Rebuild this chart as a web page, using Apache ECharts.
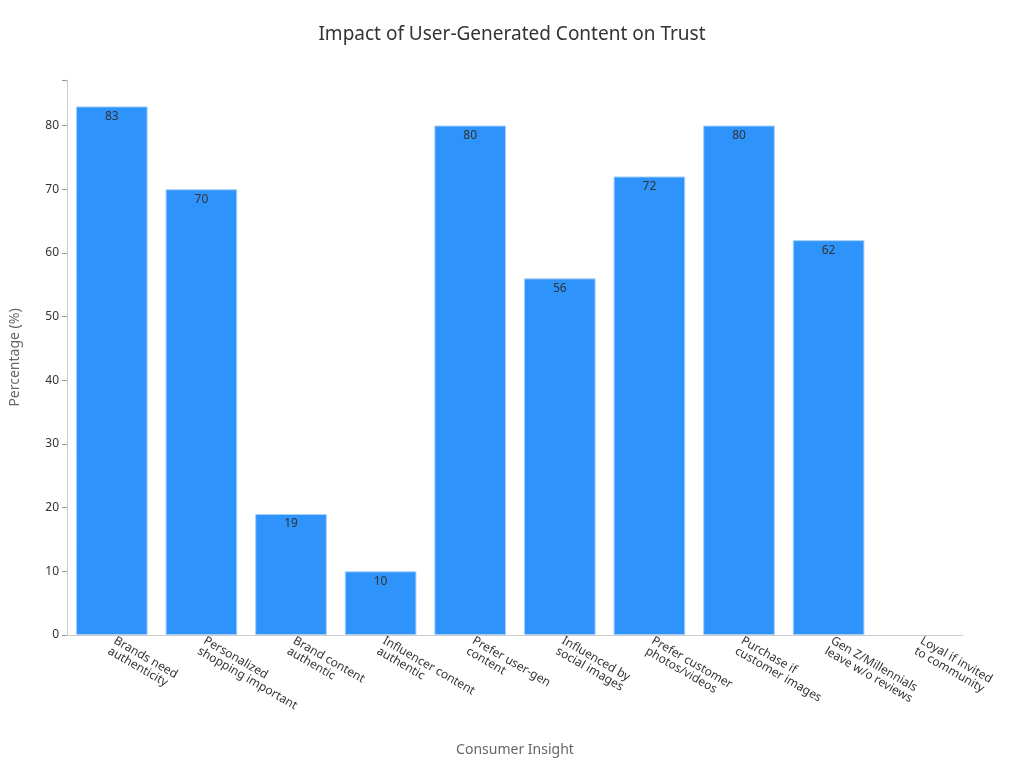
<!DOCTYPE html>
<html>
<head>
<meta charset="utf-8">
<script src="https://cdn.jsdelivr.net/npm/echarts@6/dist/echarts.min.js"></script>
<style>html,body{margin:0;padding:0;background:#fff}#main{width:1024px;height:768px}</style>
</head>
<body>
<div id="main"></div>
<script>
var categories = ['Brands need\nauthenticity', 'Personalized\nshopping important', 'Brand content\nauthentic', 'Influencer content\nauthentic', 'Prefer user-gen\ncontent', 'Influenced by\nsocial images', 'Prefer customer\nphotos/videos', 'Purchase if\ncustomer images', 'Gen Z/Millennials\nleave w/o reviews', 'Loyal if invited\nto community'];
var values = [83, 70, 19, 10, 80, 56, 72, 80, 62, '-'];

var chart = echarts.init(document.getElementById('main'));
chart.setOption({
    title: {
        text: 'Impact of User-Generated Content on Trust',
        left: 'center', top: 20,
        textStyle: {fontFamily: 'Noto Sans', fontWeight: 'normal', fontSize: 19, color: '#333'}
    },
    grid: {left: 60, right: 61, top: 80, bottom: 133},
    xAxis: {
        type: 'category',
        data: categories,
        name: 'Consumer Insight',
        nameLocation: 'middle', nameGap: 108,
        nameTextStyle: {fontFamily: 'Noto Sans', fontSize: 14, color: '#666'},
        axisLine: {lineStyle: {color: '#ccc'}},
        axisTick: {alignWithLabel: true, lineStyle: {color: '#999'}},
        axisLabel: {rotate: -30, interval: 0, fontFamily: 'Noto Sans', fontSize: 12, color: '#333', align: 'left', margin: 10}
    },
    yAxis: {
        type: 'value', min: 0, max: 87.15, interval: 10,
        name: 'Percentage (%)',
        nameLocation: 'middle', nameGap: 45,
        nameTextStyle: {fontFamily: 'Noto Sans', fontSize: 14, color: '#666'},
        axisLine: {show: true, lineStyle: {color: '#ccc'}},
        axisTick: {show: true, lineStyle: {color: '#999'}},
        splitLine: {show: false},
        axisLabel: {fontFamily: 'Noto Sans', fontSize: 12, color: '#333',
            formatter: function (v) { return v % 10 === 0 ? v : ''; }}
    },
    series: [{
        type: 'bar',
        data: values,
        barWidth: '80%',
        itemStyle: {color: '#2e93fa', borderColor: '#a8cff8', borderWidth: 1},
        label: {show: true, position: 'insideTop', distance: 4, color: '#333', fontFamily: 'Noto Sans', fontSize: 12}
    }]
});
</script>
</body>
</html>
